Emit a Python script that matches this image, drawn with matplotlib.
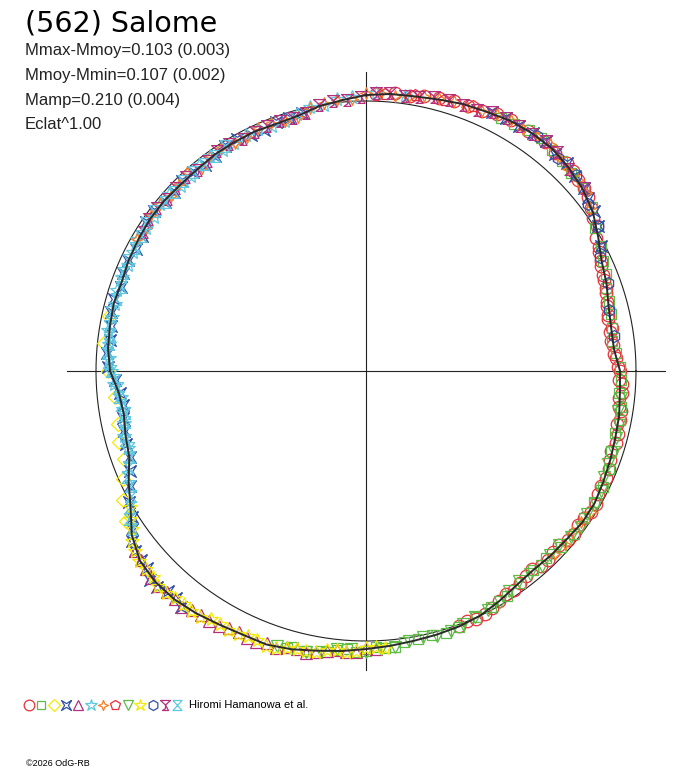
import numpy as np
import matplotlib
matplotlib.use('Agg')
import matplotlib.pyplot as plt
from matplotlib.path import Path

# polar lightcurve of (562) Salome: radius = relative flux, angle = rotational phase (deg, clockwise from top)
title = '(562) Salome'
info = ['Mmax-Mmoy=0.103 (0.003)', 'Mmoy-Mmin=0.107 (0.002)', 'Mamp=0.210 (0.004)', 'Eclat^1.00']
observer = 'Hiromi Hamanowa et al.'
credit = '\u00a92026 OdG-RB'

# fitted curve, every 5 deg of phase
fit_phase = list(range(0, 360, 5))
fit_flux = [1.022, 1.030, 1.033, 1.041, 1.052, 1.059, 1.070, 1.074, 1.074, 1.063,
            1.048, 1.026, 0.993, 0.963, 0.948, 0.930, 0.922, 0.922, 0.941, 0.944,
            0.952, 0.956, 0.963, 0.970, 0.978, 0.978, 0.970, 0.967, 0.963, 0.970,
            0.985, 1.000, 1.007, 1.011, 1.015, 1.022, 1.030, 1.041, 1.052, 1.067,
            1.078, 1.078, 1.085, 1.096, 1.104, 1.104, 1.093, 1.059, 1.007, 0.970,
            0.933, 0.922, 0.911, 0.919, 0.948, 0.959, 0.963, 0.967, 0.963, 0.970,
            0.974, 0.978, 0.978, 0.974, 0.974, 0.978, 0.978, 0.978, 0.974, 0.978,
            0.996, 1.007]

# observation sessions (phase in deg, relative flux)
s1_phase = [12, 18, 24, 30, 38, 44, 48, 52, 56, 60, 63, 66, 69, 72, 75, 78, 81, 84, 87, 90,
            93, 96, 99, 102, 106, 110, 114, 118, 122, 126, 130, 134, 138, 142, 146, 150, 154, 158,
            2, 6, 9, 15, 21, 27, 34, 41, 46, 50, 54, 58, 62, 65, 68, 71, 74, 77, 80, 83, 86, 89,
            92, 95, 98, 101, 104, 108, 112, 116, 120, 124, 128, 132, 136, 140, 144, 148, 152, 156, 160]
s1_flux = [1.040, 1.052, 1.055, 1.075, 1.078, 1.070, 1.058, 1.044, 1.015, 0.985, 0.968, 0.952,
           0.945, 0.936, 0.924, 0.918, 0.916, 0.918, 0.928, 0.940, 0.948, 0.944, 0.956, 0.950,
           0.962, 0.960, 0.975, 0.972, 0.982, 0.972, 0.976, 0.964, 0.970, 0.962, 0.978, 0.982,
           1.002, 1.000,
           1.026, 1.034, 1.030, 1.046, 1.050, 1.068, 1.070, 1.068, 1.064, 1.052, 1.030, 1.010,
           0.976, 0.960, 0.948, 0.940, 0.930, 0.920, 0.925, 0.914, 0.922, 0.934, 0.938, 0.950,
           0.946, 0.958, 0.960, 0.954, 0.970, 0.968, 0.984, 0.972, 0.978, 0.964, 0.972, 0.958,
           0.972, 0.976, 0.996, 1.006, 1.004]
s2_phase = [28, 34, 40, 46, 54, 62, 68, 74, 80, 86, 92, 98, 104, 112, 120, 128, 136, 144, 152,
            160, 166, 172, 176, 180, 184, 188,
            31, 37, 43, 50, 58, 65, 71, 77, 83, 89, 95, 101, 108, 116, 124, 132, 140, 148, 156,
            163, 169, 174, 178, 182, 186, 192, 196]
s2_flux = [1.062, 1.078, 1.070, 1.058, 1.034, 0.985, 0.958, 0.938, 0.926, 0.930, 0.946, 0.952,
           0.952, 0.970, 0.974, 0.978, 0.962, 0.972, 0.988, 1.010, 1.008, 1.012, 1.030, 1.036,
           1.034, 1.052,
           1.066, 1.080, 1.064, 1.052, 1.002, 0.968, 0.940, 0.932, 0.918, 0.942, 0.940, 0.958,
           0.956, 0.976, 0.974, 0.972, 0.960, 0.984, 0.998, 1.014, 1.010, 1.026, 1.024, 1.040,
           1.040, 1.062, 1.066]
s3_phase = [238, 242, 246, 250, 254, 258, 264, 270, 276, 282]
s3_flux = [1.050, 1.020, 0.985, 0.955, 0.950, 0.940, 0.935, 0.955, 0.975, 0.975]
s4_phase = [26, 32, 38, 44, 50, 55, 58, 62, 218, 222, 226, 230, 234, 238, 244, 250, 256, 262,
            268, 274, 280, 286, 292, 298, 304, 310, 316, 322, 328, 334, 340, 346,
            29, 35, 41, 47, 52, 220, 224, 228, 232, 236, 241, 247, 253, 259, 265, 271, 277, 283,
            289, 295, 301, 307, 313, 319, 325, 331, 337, 343]
s4_flux = [1.066, 1.068, 1.080, 1.070, 1.054, 1.030, 1.012, 0.985, 1.110, 1.098, 1.112, 1.088,
           1.072, 1.022, 0.972, 0.930, 0.925, 0.910, 0.930, 0.962, 0.958, 0.970, 0.972, 0.966,
           0.984, 0.972, 0.980, 0.970, 0.984, 0.972, 0.980, 0.986,
           1.070, 1.078, 1.066, 1.060, 1.042, 1.096, 1.112, 1.092, 1.084, 1.044, 1.004, 0.950,
           0.930, 0.918, 0.914, 0.954, 0.956, 0.970, 0.960, 0.974, 0.970, 0.982, 0.970, 0.978,
           0.974, 0.982, 0.970, 0.980]
s5_phase = [178, 182, 186, 190, 194, 198, 202, 206, 210, 214, 218, 222, 226, 230,
            180, 184, 188, 192, 196, 200, 204, 208, 212, 216, 220, 224, 228, 232]
s5_flux = [1.030, 1.040, 1.040, 1.058, 1.062, 1.080, 1.084, 1.076, 1.092, 1.090, 1.108, 1.100,
           1.106, 1.090,
           1.026, 1.044, 1.046, 1.066, 1.064, 1.074, 1.082, 1.080, 1.094, 1.094, 1.100, 1.108,
           1.094, 1.084]
s6_phase = [252, 258, 264, 270, 276, 282, 288, 294, 300, 306, 312, 318, 324, 330, 336, 342,
            348, 354, 2, 8,
            255, 261, 267, 273, 279, 285, 291, 297, 303, 309, 315, 321, 327, 333, 339, 345, 351, 357]
s6_flux = [0.925, 0.918, 0.914, 0.944, 0.956, 0.960, 0.968, 0.966, 0.978, 0.972, 0.980, 0.970,
           0.982, 0.975, 0.983, 0.972, 0.998, 1.012, 1.032, 1.028,
           0.926, 0.910, 0.934, 0.952, 0.966, 0.962, 0.968, 0.968, 0.972, 0.982, 0.970, 0.980,
           0.974, 0.982, 0.970, 0.984, 0.996, 1.018]
s7_phase = [300, 306, 312, 318, 324, 330, 336, 342, 348, 354, 0, 6, 12, 18, 24, 30, 36, 42,
            48, 54, 122, 128, 134,
            303, 309, 315, 321, 327, 333, 339, 345, 351, 357, 3, 9, 15, 21, 27, 33, 39, 45, 51,
            125, 131]
s7_flux = [0.980, 0.984, 0.970, 0.990, 0.982, 0.974, 0.985, 0.972, 0.994, 1.010, 1.028, 1.025,
           1.040, 1.052, 1.054, 1.074, 1.078, 1.066, 1.058, 1.026, 0.984, 0.968, 0.974,
           0.970, 0.984, 0.980, 0.968, 0.984, 0.972, 0.982, 0.974, 1.004, 1.008, 1.032, 1.028,
           1.046, 1.048, 1.068, 1.070, 1.080, 1.058, 1.048, 0.972, 0.976]
s8_phase = [4, 10, 16, 22]
s8_flux = [1.030, 1.038, 1.044, 1.058]
s9_phase = [96, 102, 108, 114, 120, 126, 132, 138, 144, 150, 156, 162, 168, 174, 180, 186,
            192, 198,
            99, 105, 111, 117, 123, 129, 135, 141, 147, 153, 159, 165, 171, 177, 183, 189, 195]
s9_flux = [0.950, 0.958, 0.966, 0.964, 0.984, 0.982, 0.964, 0.972, 0.962, 0.990, 0.996, 1.014,
           1.008, 1.026, 1.040, 1.036, 1.064, 1.070,
           0.946, 0.960, 0.960, 0.978, 0.974, 0.976, 0.962, 0.968, 0.972, 0.994, 1.002, 1.016,
           1.012, 1.030, 1.032, 1.054, 1.062]
s10_phase = [176, 180, 184, 188, 192, 196, 200, 204, 208, 212, 216, 220, 224, 228, 232, 236, 240,
             178, 182, 186, 190, 194, 198, 202, 206, 210, 214, 218, 222, 226, 230, 234, 238]
s10_flux = [1.028, 1.026, 1.042, 1.044, 1.062, 1.066, 1.082, 1.074, 1.086, 1.084, 1.100, 1.098,
            1.108, 1.094, 1.084, 1.044, 1.010,
            1.024, 1.038, 1.040, 1.056, 1.060, 1.078, 1.074, 1.084, 1.082, 1.098, 1.096, 1.108,
            1.098, 1.096, 1.070, 1.032]
s11_phase = [36, 42, 47, 53, 58, 64, 70, 76, 82]
s11_flux = [1.078, 1.064, 1.062, 1.030, 1.012, 0.964, 0.952, 0.928, 0.926]
s12_phase = [302, 308, 314, 320, 326, 332, 338, 344, 350, 356, 2, 8, 14, 20, 26, 32, 38,
             305, 311, 317, 323, 329, 335, 341, 347, 353, 359, 5, 11, 17, 23, 29, 35, 41, 45, 50]
s12_flux = [0.970, 0.982, 0.978, 0.970, 0.984, 0.974, 0.980, 0.976, 1.000, 1.006, 1.030, 1.028,
            1.044, 1.048, 1.066, 1.068, 1.080,
            0.982, 0.972, 0.980, 0.972, 0.982, 0.976, 0.978, 0.982, 1.008, 1.016, 1.034, 1.032,
            1.050, 1.052, 1.070, 1.072, 1.076, 1.058, 1.052]
s13_phase = [236, 240, 244, 248, 252, 256, 260, 264, 268, 272, 276, 280, 286, 292, 298, 304,
             310, 316, 322, 328,
             238, 242, 246, 250, 254, 258, 262, 266, 270, 274, 278, 283, 289, 295, 301, 307,
             313, 319, 325]
s13_flux = [1.046, 1.010, 0.972, 0.952, 0.924, 0.922, 0.906, 0.920, 0.932, 0.956, 0.956, 0.968,
            0.962, 0.970, 0.968, 0.982, 0.974, 0.978, 0.972, 0.982,
            1.034, 0.986, 0.968, 0.930, 0.928, 0.912, 0.918, 0.922, 0.944, 0.960, 0.958, 0.970,
            0.960, 0.974, 0.972, 0.982, 0.970, 0.978, 0.974]

# marker shapes not built into matplotlib
star4 = Path([(0, 1), (0.28, 0.28), (1, 0), (0.28, -0.28), (0, -1), (-0.28, -0.28),
              (-1, 0), (-0.28, 0.28), (0, 1)])
star4x = Path([(0.8, 0.8), (0.3, 0), (0.8, -0.8), (0, -0.3), (-0.8, -0.8), (-0.3, 0),
               (-0.8, 0.8), (0, 0.3), (0.8, 0.8)])
hourglass = Path([(-0.9, 1), (0.9, 1), (0, 0), (0.9, -1), (-0.9, -1), (0, 0), (-0.9, 1)])
tree = Path([(-1, 1), (1, 1), (0, 0.1), (-1, 1), (0, 0.1), (0, -0.6), (-0.6, -1), (0.6, -1), (0, -0.6)],
            [Path.MOVETO, Path.LINETO, Path.LINETO, Path.CLOSEPOLY, Path.MOVETO, Path.LINETO,
             Path.LINETO, Path.LINETO, Path.CLOSEPOLY])

red = '#e8303a'
green = '#5dbb46'
yellow = '#f2ea00'
blue = '#3350a8'
purple = '#b3307e'
cyan = '#5ec8e0'
orange = '#f4802a'

series = [
    (s1_phase, s1_flux, 'o', red, 9),
    (s2_phase, s2_flux, 's', green, 7.5),
    (s3_phase, s3_flux, 'D', yellow, 7),
    (s4_phase, s4_flux, star4x, blue, 8.5),
    (s5_phase, s5_flux, '^', purple, 8.5),
    (s6_phase, s6_flux, '*', cyan, 10.5),
    (s7_phase, s7_flux, star4, orange, 8.5),
    (s8_phase, s8_flux, 'p', red, 8.5),
    (s9_phase, s9_flux, 'v', green, 8.5),
    (s10_phase, s10_flux, '*', yellow, 10.5),
    (s11_phase, s11_flux, 'h', blue, 8.5),
    (s12_phase, s12_flux, tree, purple, 8.5),
    (s13_phase, s13_flux, hourglass, cyan, 8.5),
]

W, H = 688, 768
cx, cy = 366, 371      # pixel position of the centre
scale = 270.0           # pixels per unit flux

fig = plt.figure(figsize=(W / 100, H / 100), dpi=100)
ax = fig.add_axes([0, 0, 1, 1])
ax.set_xlim(-cx / scale, (W - cx) / scale)
ax.set_ylim(-(H - cy) / scale, cy / scale)
ax.axis('off')


def to_xy(phase, flux):
    th = np.radians(90 - np.asarray(phase, float))
    f = np.asarray(flux, float)
    return f * np.cos(th), f * np.sin(th)


# axes and mean-flux circle
ax.plot([-1.107, 1.107], [0, 0], color='#222222', lw=0.8)
ax.plot([0, 0], [-1.107, 1.107], color='#222222', lw=0.8)
t = np.linspace(0, 2 * np.pi, 400)
ax.plot(np.cos(t), np.sin(t), color='#222222', lw=0.8)

for ph, fl, m, c, ms in series:
    x, y = to_xy(ph, fl)
    ax.plot(x, y, ls='none', marker=m, ms=ms, mfc='none', mec=c, mew=0.9)

fx, fy = to_xy(fit_phase + [360], fit_flux + fit_flux[:1])
ax.plot(fx, fy, color='#2a2a2a', lw=1.4, zorder=5)

# legend row of symbols
for i, (ph, fl, m, c, ms) in enumerate(series):
    ax.plot([(29 + 12.35 * i) / W], [1 - 705 / H], transform=fig.transFigure, clip_on=False,
            ls='none', marker=m, ms=ms * 0.85, mfc='none', mec=c, mew=0.9)

fig.text(25 / W, 1 - 31.5 / H, title, fontsize=20.5, family='DejaVu Sans', va='baseline')
for i, line in enumerate(info):
    fig.text(25 / W, 1 - (55 + 24.8 * i) / H, line, fontsize=12, family='Liberation Sans',
             va='baseline', color='#222222')
fig.text(189 / W, 1 - 705 / H, observer, fontsize=8, family='Liberation Sans', va='center')
fig.text(26 / W, 1 - 763 / H, credit, fontsize=6.5, family='Liberation Sans', va='center')

fig.savefig('out.png', dpi=100, facecolor='white')
